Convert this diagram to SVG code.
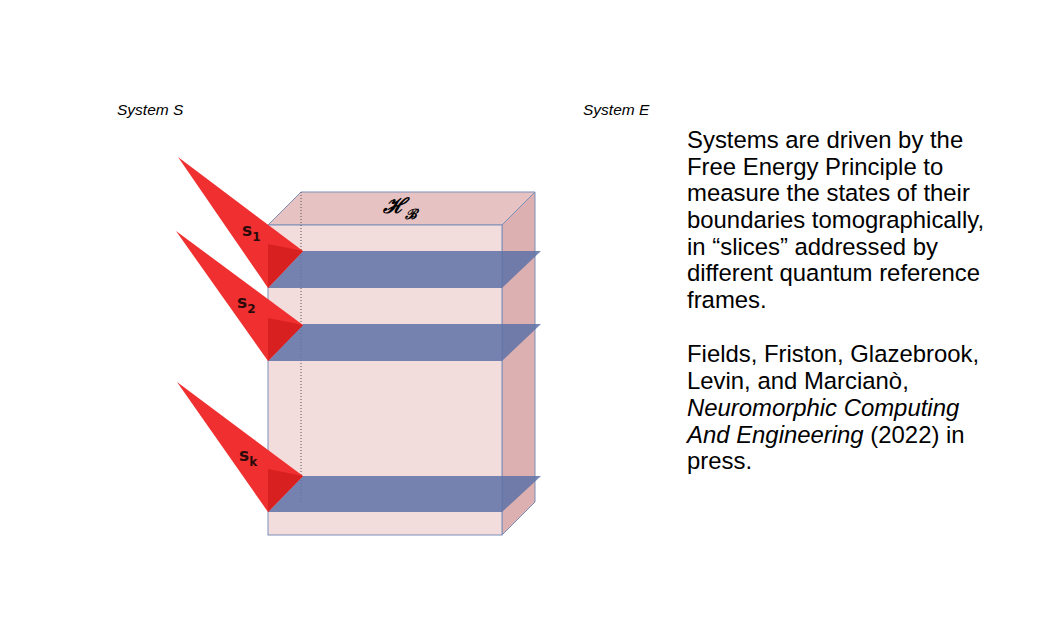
<svg xmlns="http://www.w3.org/2000/svg" width="1056" height="624" viewBox="0 0 1056 624">
<style>
.lab{font-family:"Liberation Sans",Arial,sans-serif;font-style:italic;font-size:15.5px;fill:#000}
.txt{font-family:"Liberation Sans",Arial,sans-serif;font-size:23.9px;fill:#000}
.face{stroke:#7d8fb8;stroke-width:1}
.slab{fill:#5e72a8;fill-opacity:0.85}
.tri{fill:#f03030;stroke:none}
.sl{font-family:"DejaVu Sans",sans-serif;font-weight:bold;font-size:17px;fill:#2a0a0a}
</style>
<rect width="1056" height="624" fill="#fff"/>
<text class="lab" x="117" y="115">System S</text>
<text class="lab" x="583" y="115">System E</text>
<g id="box">
<polygon class="face" points="268,225 301,192 535,192 502,225" fill="#e6c2c2"/>
<polygon class="face" points="502,225 535,192 535,502 502,535" fill="#dcb0b0"/>
<rect class="face" x="268" y="225" width="234" height="310" fill="#f3dcdc"/>
<line x1="301" y1="192" x2="301" y2="502" stroke="#555" stroke-dasharray="1,2"/>
<text x="383" y="213" font-family="DejaVu Serif,serif" font-style="italic" font-weight="bold" font-size="21" fill="#000">ℋ<tspan font-size="14" dy="6">ℬ</tspan></text>
</g>
<g id="slabs">
<polygon class="slab" points="268,288 303,251 541,251 502,288"/>
<polygon class="slab" points="268,361 303,324 541,324 502,361"/>
<polygon class="slab" points="268,512 303,476 541,476 502,512"/>
</g>
<g id="s1"><polygon class="tri" points="178,157 303,251 268,288"/><polygon points="268,244 303,251 268,288" fill="#d82020"/><text class="sl" x="242" y="236">s<tspan font-size="12" dy="5">1</tspan></text></g>
<g id="s2"><polygon class="tri" points="176,231 303,325 268,361"/><polygon points="268,318 303,325 268,361" fill="#d82020"/><text class="sl" x="237" y="308">s<tspan font-size="12" dy="5">2</tspan></text></g>
<g id="sk"><polygon class="tri" points="177,382 303,476 268,512"/><polygon points="268,469 303,476 268,512" fill="#d82020"/><text class="sl" x="239" y="461">s<tspan font-size="12" dy="5">k</tspan></text></g>
<g id="text">
<text class="txt" x="687" y="148">Systems are driven by the</text>
<text class="txt" x="687" y="175">Free Energy Principle to</text>
<text class="txt" x="687" y="201">measure the states of their</text>
<text class="txt" x="687" y="228">boundaries tomographically,</text>
<text class="txt" x="687" y="255">in “slices” addressed by</text>
<text class="txt" x="687" y="281">different quantum reference</text>
<text class="txt" x="687" y="308">frames.</text>
<text class="txt" x="687" y="362">Fields, Friston, Glazebrook,</text>
<text class="txt" x="687" y="389">Levin, and Marcianò,</text>
<text class="txt" x="687" y="416" font-style="italic">Neuromorphic Computing</text>
<text class="txt" x="687" y="443"><tspan font-style="italic">And Engineering</tspan> (2022) in</text>
<text class="txt" x="687" y="469">press.</text>
</g>
</svg>
